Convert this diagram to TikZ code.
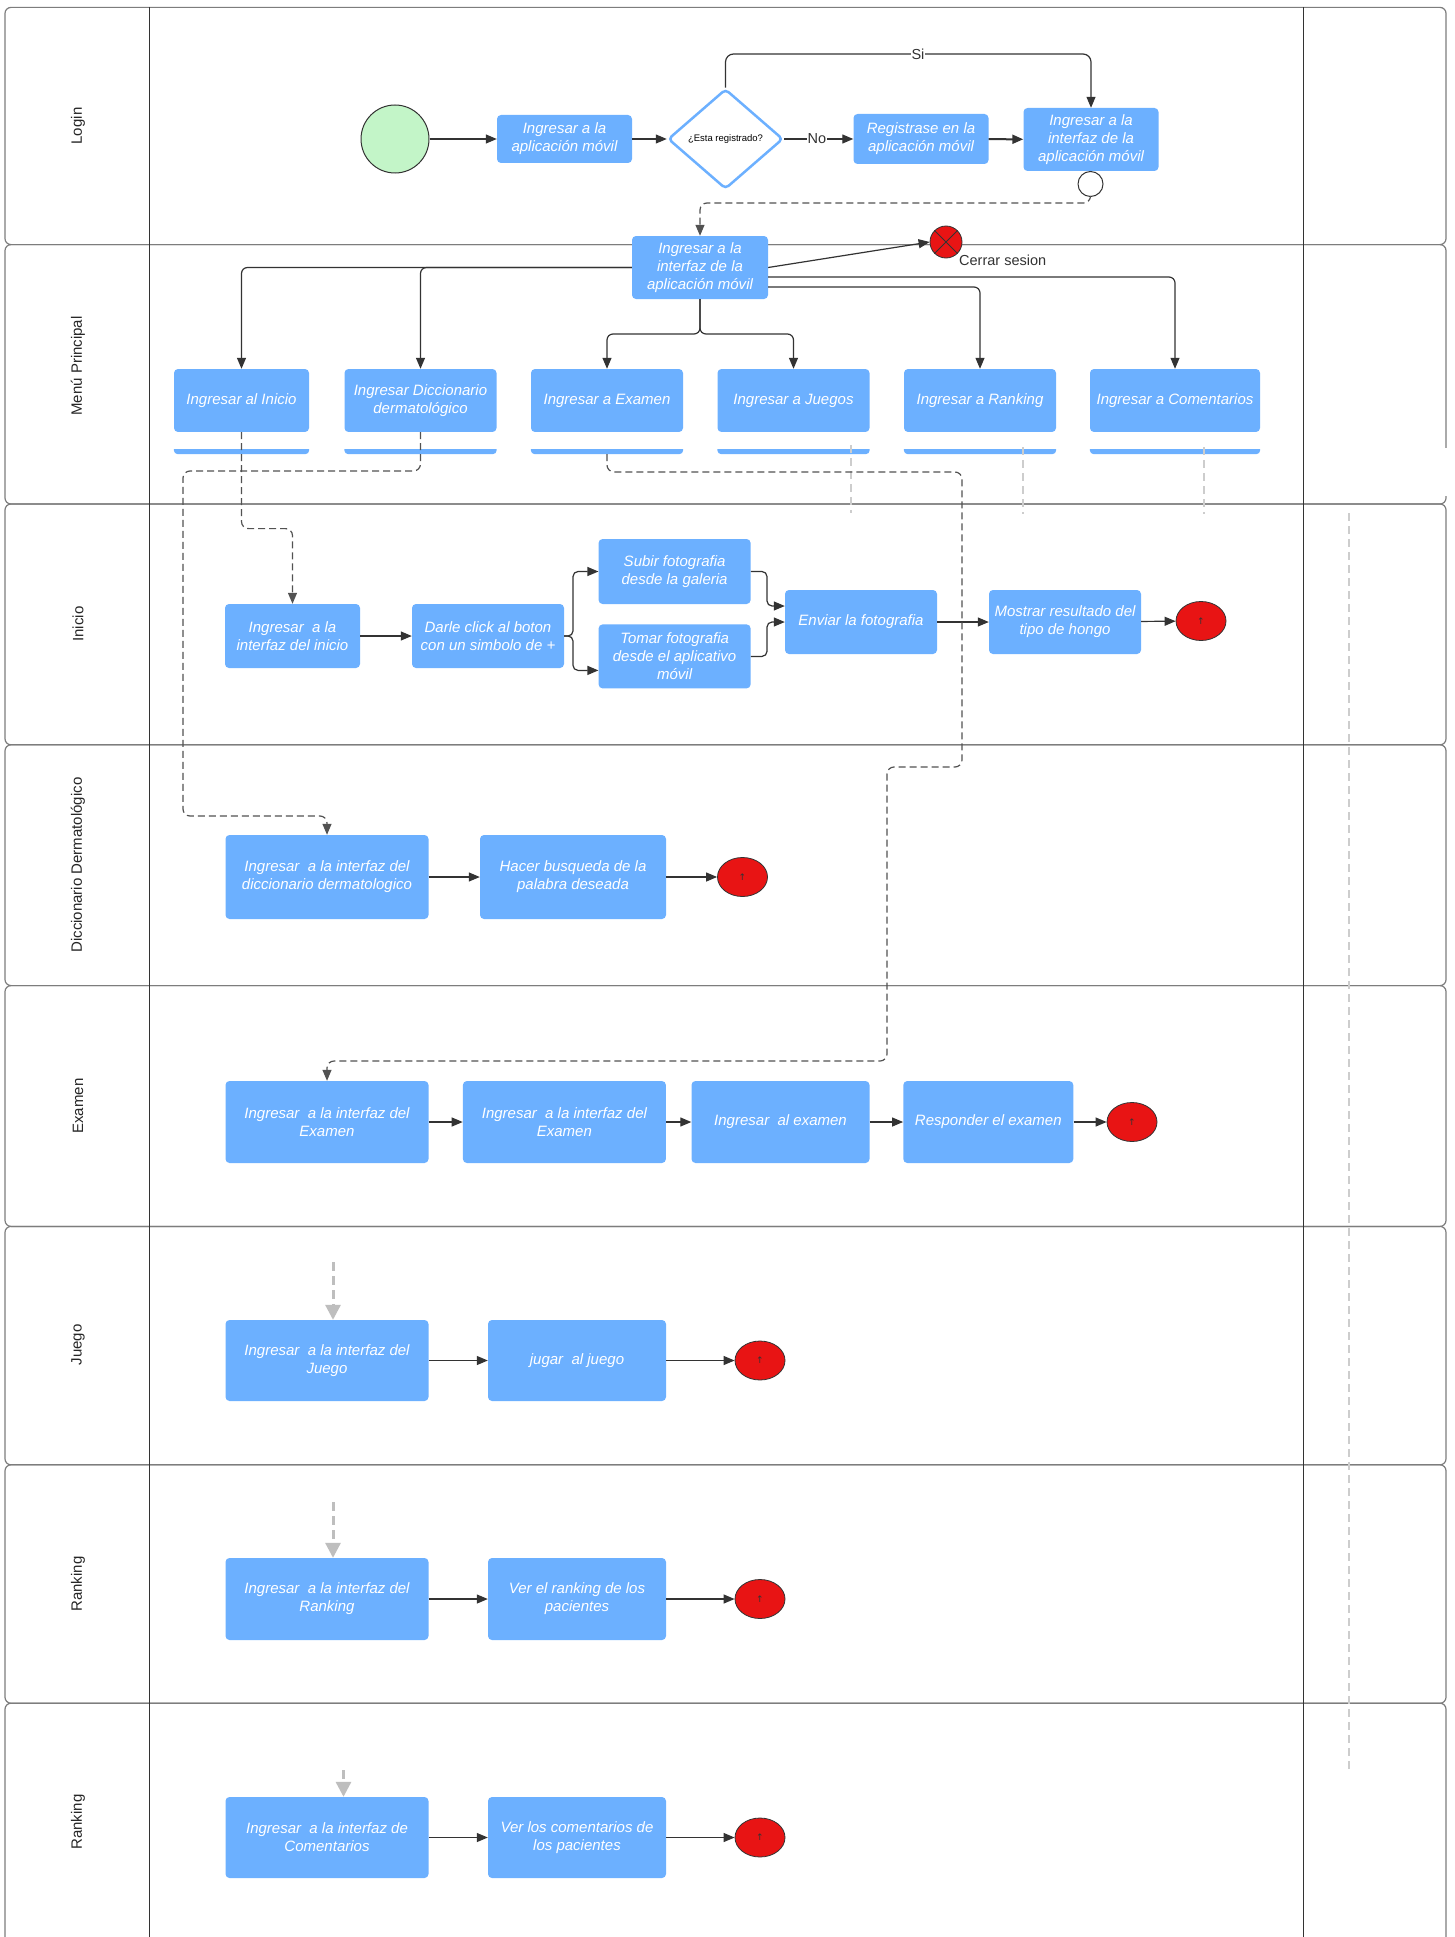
\documentclass[tikz,border=0pt]{standalone}
\usepackage{fontspec}
\setmainfont{Liberation Sans}
\newfontfamily\dvs{DejaVu Sans}
\usetikzlibrary{arrows.meta,shapes.geometric}
\definecolor{boxblue}{RGB}{108,176,255}
\definecolor{endred}{RGB}{232,20,20}
\definecolor{startgreen}{RGB}{195,245,200}
\definecolor{conn}{RGB}{51,51,51}
\definecolor{lanegray}{RGB}{125,125,125}
\definecolor{lightdash}{RGB}{205,205,205}
\definecolor{arrowgray}{RGB}{190,190,190}
\begin{document}
\begin{tikzpicture}[x=1pt,y=-1pt,
  box/.style={rectangle, rounded corners=4pt, fill=boxblue, draw=none, text=white,
     font=\fontsize{15}{18}\selectfont\itshape, align=center, inner sep=1pt},
  endc/.style={ellipse, fill=endred, draw=conn, line width=0.8pt, minimum width=50pt,
     minimum height=39pt, inner sep=0pt, text=conn, font=\dvs\fontsize{9}{9}\selectfont},
  startc/.style={circle, fill=startgreen, draw=conn, line width=1pt, minimum size=68pt, inner sep=0pt},
  decision/.style={diamond, draw=boxblue, line width=2.5pt, fill=white, minimum width=115pt,
     minimum height=100pt, inner sep=0pt, rounded corners=4pt, text=black,
     font=\fontsize{9.5}{11}\selectfont},
  con/.style={draw=conn, line width=1.2pt, -{Triangle[length=11pt,width=9pt]}},
  dcon/.style={draw=conn!85, line width=1.2pt, dash pattern=on 7pt off 4pt, rounded corners=7pt,
     -{Triangle[length=11pt,width=9pt]}},
  lgline/.style={draw=lightdash, line width=2.5pt, dash pattern=on 8pt off 5pt},
  lgarrow/.style={draw=arrowgray, line width=3pt, dash pattern=on 9pt off 5pt,
     -{Triangle[length=15pt,width=15pt]}},
  lane/.style={draw=lanegray, line width=1.2pt, rounded corners=6pt},
  divider/.style={draw=conn, line width=1pt},
  lanelbl/.style={rotate=90, font=\fontsize{15}{17}\selectfont, text=black!85},
  lbl/.style={font=\fontsize{14.5}{17}\selectfont, text=conn, inner sep=1pt}
]
\useasboundingbox (0,0) rectangle (1455,1937);
\fill[white] (0,0) rectangle (1455,1937);

% ---------- lanes ----------
\foreach \ya/\yb in {7.4/244.6,244.6/504,504/744.8,744.8/985.6,985.6/1226.4,1226.4/1464.8,1464.8/1703.2,1703.2/1990}
  \draw[lane] (5,\ya) rectangle (1446,\yb);
\draw[divider] (149.5,7.4) -- (149.5,1937);
\draw[divider] (1303,7.4) -- (1303,1937);

\node[lanelbl] (lbA) at (78,126) {Login};
\node[lanelbl] (lbB) at (78,366) {Menú Principal};
\node[lanelbl] (lbC) at (78,624) {Inicio};
\node[lanelbl] (lbD) at (78,865) {Diccionario Dermatológico};
\node[lanelbl] (lbE) at (78,1106) {Examen};
\node[lanelbl] (lbF) at (78,1345) {Juego};
\node[lanelbl] (lbG) at (78,1584) {Ranking};
\node[lanelbl] (lbH) at (78,1822) {Ranking};

% ---------- Login ----------
\node[startc] (start) at (395,139) {};
\node[box, minimum width=135pt, minimum height=48pt] (l1) at (564.5,139) {Ingresar a la\\aplicación móvil};
\node[decision] (dec) at (725.5,139) {¿Esta registrado?};
\node[box, minimum width=135pt, minimum height=50pt] (l2) at (921,139) {Registrase en la\\aplicación móvil};
\node[box, minimum width=135pt, minimum height=63pt] (l3) at (1091,139.5) {Ingresar a la\\interfaz de la\\aplicación móvil};
\node[circle, draw=conn, fill=white, minimum size=25pt, inner sep=0pt, line width=1pt] (sc) at (1090.5,184) {};

\draw[con] (start) -- (l1);
\draw[con] (l1) -- (dec);
\draw[con] (dec.east) -- (l2.west);
\node[lbl, fill=white] (no) at (817,139) {No};
\draw[con, line width=2pt] (l2) -- (l3);
\draw[con, rounded corners=8pt] (dec.north) -- (725.5,54) -| (l3.north);
\node[lbl, fill=white] (si) at (918,54) {Si};

% ---------- Menu principal ----------
\node[box, minimum width=136pt, minimum height=63pt] (m0) at (700,267.5) {Ingresar a la\\interfaz de la\\aplicación móvil};
\node[circle, fill=endred, draw=conn, line width=0.8pt, minimum size=32pt, inner sep=0pt] (xend) at (946,242) {};
\draw[conn, line width=0.8pt] (xend.45) -- (xend.225) (xend.135) -- (xend.315);
\node[lbl, anchor=west] (cerrar) at (958,260) {Cerrar sesion};

\node[box, minimum width=135pt, minimum height=63pt] (m1) at (241.5,400.5) {Ingresar al Inicio};
\node[box, minimum width=152pt, minimum height=63pt] (m2) at (420.5,400.5) {Ingresar Diccionario\\dermatológico};
\node[box, minimum width=152pt, minimum height=63pt] (m3) at (607,400.5) {Ingresar a Examen};
\node[box, minimum width=152pt, minimum height=63pt] (m4) at (793.5,400.5) {Ingresar a Juegos};
\node[box, minimum width=152pt, minimum height=63pt] (m5) at (980,400.5) {Ingresar a Ranking};
\node[box, minimum width=170pt, minimum height=63pt] (m6) at (1175,400.5) {Ingresar a Comentarios};
\foreach \n in {m1,m2,m3,m4,m5,m6}
  \fill[boxblue, rounded corners=4pt] (\n.south west) rectangle ([yshift=-22pt]\n.south east);
\fill[white] (151,432) rectangle (1300,449);
\fill[white] (1440,448) rectangle (1455,496);

\draw[dcon] (sc.south) -- (1090.5,203) -| (m0.north);
\draw[con] (m0.east) -- (xend.west);
\draw[con, rounded corners=6pt] (m0.west) -| (m1.north);
\draw[con, rounded corners=6pt] (m0.west) -| (m2.north);
\draw[con, rounded corners=6pt] (m0.south) -- (700,334) -| (m3.north);
\draw[con, rounded corners=6pt] (m0.south) -- (700,334) -| (m4.north);
\draw[con, rounded corners=6pt] ([yshift=-9.5pt]m0.east) -| (m6.north);
\draw[con, rounded corners=6pt] ([yshift=-19.5pt]m0.east) -| (m5.north);

% light grey dashed stubs
\coordinate (gA1) at (851,445); \coordinate (gA2) at (851,513);
\coordinate (gB1) at (1023,447); \coordinate (gB2) at (1023,514);
\coordinate (gC1) at (1204,447); \coordinate (gC2) at (1204,514);
\coordinate (gD1) at (1349,513); \coordinate (gD2) at (1349,1769);
\draw[lgline] (gA1) -- (gA2);
\draw[lgline] (gB1) -- (gB2);
\draw[lgline] (gC1) -- (gC2);
\draw[lgline] (gD1) -- (gD2);

% ---------- Inicio ----------
\node[box, minimum width=135pt, minimum height=64pt] (i1) at (292.5,636) {Ingresar\ \ a la\\interfaz del inicio};
\node[box, minimum width=152pt, minimum height=64pt] (i2) at (488,636) {Darle click al boton\\con un simbolo de +};
\node[box, minimum width=152pt, minimum height=65pt] (i3) at (674.6,571.5) {Subir fotografia\\desde la galeria};
\node[box, minimum width=152pt, minimum height=64pt] (i4) at (674.6,656.4) {Tomar fotografia\\desde el aplicativo\\móvil};
\node[box, minimum width=152pt, minimum height=64pt] (i5) at (861,622) {Enviar la fotografia};
\node[box, minimum width=152pt, minimum height=64pt] (i6) at (1065,622) {Mostrar resultado del\\tipo de hongo};
\node[endc] (iend) at (1201,621) {↑};

\draw[con] (i1) -- (i2);
\draw[con, rounded corners=5pt] (i2.east) -- (573,636) |- (i3.west);
\draw[con, rounded corners=5pt] (i2.east) -- (573,636) |- ([yshift=-14pt]i4.west);
\draw[con, rounded corners=5pt] (i3.east) -- (767,571.5) |- ([yshift=16pt]i5.west);
\draw[con, rounded corners=5pt] (i4.east) -- (767,656.4) |- (i5.west);
\draw[con] (i5) -- (i6);
\draw[con] (i6) -- (iend);

% ---------- Diccionario ----------
\node[box, minimum width=203pt, minimum height=84pt] (d1) at (327,877) {Ingresar\ \ a la interfaz del\\diccionario dermatologico};
\node[box, minimum width=186pt, minimum height=84pt] (d2) at (573,877) {Hacer busqueda de la\\palabra deseada};
\node[endc] (dend) at (742.5,877) {↑};
\draw[con] (d1) -- (d2);
\draw[con] (d2) -- (dend);

% ---------- Examen ----------
\node[box, minimum width=203pt, minimum height=82pt] (e1) at (327,1122) {Ingresar\ \ a la interfaz del\\Examen};
\node[box, minimum width=203pt, minimum height=82pt] (e2) at (564.4,1122) {Ingresar\ \ a la interfaz del\\Examen};
\node[box, minimum width=178pt, minimum height=82pt] (e3) at (780.5,1122) {Ingresar\ \ al examen};
\node[box, minimum width=170pt, minimum height=82pt] (e4) at (988.3,1122) {Responder el examen};
\node[endc] (eend) at (1132,1122) {↑};
\draw[con] (e1) -- (e2);
\draw[con] (e2) -- (e3);
\draw[con] (e3) -- (e4);
\draw[con] (e4) -- (eend);

% ---------- Juego ----------
\node[box, minimum width=203pt, minimum height=81pt] (j1) at (327,1360.5) {Ingresar\ \ a la interfaz del\\Juego};
\node[box, minimum width=178pt, minimum height=81pt] (j2) at (577,1360.5) {jugar\ \ al juego};
\node[endc] (jend) at (760,1360.5) {↑};
\draw[con] (j1) -- (j2);
\draw[con] (j2) -- (jend);

% ---------- Ranking ----------
\node[box, minimum width=203pt, minimum height=82pt] (r1) at (327,1599) {Ingresar\ \ a la interfaz del\\Ranking};
\node[box, minimum width=178pt, minimum height=82pt] (r2) at (577,1599) {Ver el ranking de los\\pacientes};
\node[endc] (rend) at (760,1599) {↑};
\draw[con] (r1) -- (r2);
\draw[con] (r2) -- (rend);

% ---------- Comentarios ----------
\node[box, minimum width=203pt, minimum height=81pt] (c1) at (327,1837.5) {Ingresar\ \ a la interfaz de\\Comentarios};
\node[box, minimum width=178pt, minimum height=81pt] (c2) at (577,1837.5) {Ver los comentarios de\\los pacientes};
\node[endc] (cend) at (760,1837.5) {↑};
\draw[con] (c1) -- (c2);
\draw[con] (c2) -- (cend);

% ---------- dashed cross-lane connectors ----------
\draw[dcon] (m1.south) -- (241.5,528.6) -| (i1.north);
\draw[dcon] (m2.south) -- (420.5,471) -- (183,471) -- (183,816) -| (d1.north);
\draw[dcon] ([yshift=-22pt]m3.south) -- (607,472) -- (962,472) -- (962,767) -- (887,767) -- (887,1061) -| (e1.north);

% grey arrows into lower lanes
\coordinate (jg) at (333,1262);
\coordinate (rg) at (333,1502);
\coordinate (cg) at (343.5,1770);
\draw[lgarrow] (jg) -- ([xshift=6pt]j1.north);
\draw[lgarrow] (rg) -- ([xshift=6pt]r1.north);
\draw[lgarrow] (cg) -- ([xshift=16.5pt]c1.north);
\end{tikzpicture}
\end{document}
